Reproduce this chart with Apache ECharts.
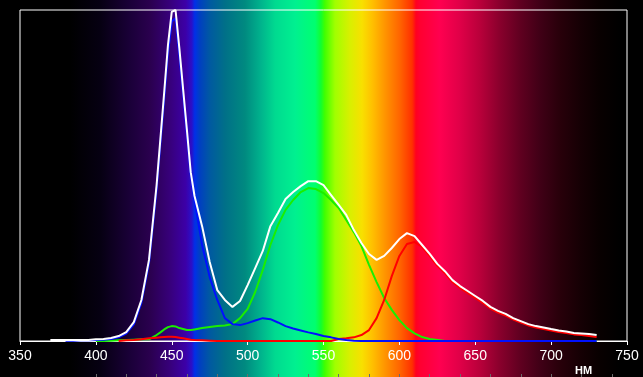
<!DOCTYPE html>
<html lang="ru">
<head>
  <meta charset="UTF-8">
  <title>Спектр</title>
  <style>
    html, body { margin: 0; padding: 0; background: #000; }
    #chart { width: 643px; height: 377px; }
  </style>
  <script src="https://cdn.jsdelivr.net/npm/echarts@6/dist/echarts.min.js"></script>
</head>
<body>
  <div id="chart"></div>
  <script>
    // длины волн, нм
    var wavelengths = [
      365, 370, 375, 380, 385, 390, 395, 400, 405, 410, 415, 420, 425, 430, 435, 440,
      442.5, 445, 447.5, 450, 452.5, 455, 457.5, 460, 462.5, 465,
      470, 475, 480, 485, 490, 495, 500, 505, 510, 515, 520, 525, 530, 535, 540, 545,
      550, 555, 560, 565, 570, 575, 580, 585, 590, 595, 600, 605, 610, 615, 620, 625,
      630, 635, 640, 645, 650, 655, 660, 665, 670, 675, 680, 685, 690, 695, 700, 705,
      710, 715, 720, 725, 730
    ];
    // суммарный спектр (белый)
    var whiteVals = [
      null, 0.3, 0.3, 0.3, 0.3, 0.3, 0.3, 0.5, 0.6, 0.9, 1.5, 2.7, 5.7, 12.4, 24.5, 47,
      61, 75, 89.4, 99.4, 100, 88.5, 76, 63.7, 51, 43.8,
      34.7, 23.9, 15.4, 12.4, 10.3, 12.1, 16.9, 22, 27.2, 34.7, 38.7, 42.9, 45, 46.8, 48.3, 48.3,
      47.1, 44.1, 41.1, 38.1, 33.5, 29.6, 26.3, 24.5, 25.7, 28.1, 30.8, 32.6, 31.7, 29, 26.3, 23.3,
      21.1, 18.4, 16.6, 15.1, 13.6, 12.1, 10.3, 9.1, 8.2, 6.9, 6, 5.1, 4.5, 4.1, 3.6, 3.2,
      2.9, 2.4, 2.3, 2.1, 1.8
    ];
    var blueVals = [
      null, null, null, 0.1, 0.1, 0.2, 0.2, 0.3, 0.4, 0.6, 1.1, 2.2, 5.0, 11.5, 23.5, 45.5,
      59.5, 73, 87, 96.5, 97.5, 86.5, 74.5, 62.5, 50.5, 42.6,
      29, 19.3, 12.4, 6.9, 5.1, 4.8, 5.4, 6.2, 6.9, 6.6, 5.6, 4.5, 3.8, 3.2, 2.6, 2.1,
      1.5, 1.1, 0.6, 0.3, 0.1, 0, 0, 0, 0, 0, 0, 0, 0, 0, 0, 0,
      0, 0, 0, 0, 0, 0, 0, 0, 0, 0, 0, 0, 0, 0, 0, 0,
      0, 0, 0, 0, 0
    ];
    var greenVals = [
      null, null, null, null, null, null, null, 0, 0, 0.1, 0.2, 0.3, 0.4, 0.5, 0.5, 1.8,
      2.6, 3.5, 4.2, 4.5, 4.4, 3.9, 3.6, 3.3, 3.3, 3.5,
      3.9, 4.2, 4.5, 4.7, 5.1, 6.9, 9.7, 14.8, 21.5, 29, 35, 39.6, 42.6, 45, 46.2, 45.9,
      44.7, 42.6, 40.2, 36.6, 32.9, 28.7, 23, 17.8, 13, 9.4, 6.3, 3.9, 2.3, 1.2, 0.6, 0.3,
      0, 0, 0, 0, 0, 0, 0, 0, 0, 0, 0, 0, 0, 0, 0, 0,
      0, 0, 0, 0, 0
    ];
    var redVals = [
      null, null, null, null, null, null, null, null, null, null, 0, 0.2, 0.3, 0.5, 0.8, 1.0,
      1.1, 1.2, 1.3, 1.3, 1.2, 1.0, 0.8, 0.6, 0.4, 0.3,
      0.2, 0.1, 0, 0, 0, 0, 0, 0, 0, 0, 0, 0, 0, 0, 0, 0,
      0, 0, 0.6, 0.8, 1.1, 1.8, 3.3, 6.9, 12.4, 19.6, 25.7, 29.3, 29.9, 28.4, 25.7, 22.7,
      20.5, 17.8, 16, 14.5, 13, 11.5, 9.8, 8.6, 7.7, 6.5, 5.6, 4.7, 4.1, 3.6, 3.2, 2.7,
      2.4, 2, 1.8, 1.5, 1.2
    ];
    var xTicks = [350, 400, 450, 500, 550, 600, 650, 700, 750];
    var minorTicks = [400, 420, 440, 460, 480, 500, 520, 540, 560, 580, 600, 620, 640, 660, 680, 700, 720, 740];

    // цвета спектра фона: [доля ширины, цвет]
    var spectrumStops = [
      [0, '#000000'], [0.109, '#000000'], [0.156, '#060012'], [0.202, '#1a0038'],
      [0.233, '#2a004e'], [0.264, '#37007a'], [0.289, '#3c00a8'], [0.298, '#2a10c8'],
      [0.303, '#0030e8'], [0.311, '#0040c0'], [0.327, '#005aa0'], [0.350, '#007088'],
      [0.381, '#008a80'], [0.404, '#00b08c'], [0.428, '#00da90'], [0.459, '#00f090'],
      [0.490, '#00ff70'], [0.499, '#10ff30'], [0.505, '#40ff00'], [0.521, '#a0ff00'],
      [0.544, '#d8f000'], [0.563, '#f8e000'], [0.579, '#ffc000'], [0.599, '#ff9400'],
      [0.622, '#ff6400'], [0.641, '#ff3000'], [0.647, '#ff0020'], [0.653, '#ff0030'],
      [0.684, '#ff0050'], [0.715, '#e00048'], [0.747, '#b8003a'], [0.778, '#88002c'],
      [0.809, '#600020'], [0.840, '#400016'], [0.871, '#28000a'], [0.902, '#160004'],
      [0.933, '#080000'], [0.964, '#000000'], [1, '#000000']
    ];

    function pairs(vals) {
      var out = [];
      for (var i = 0; i < wavelengths.length; i++) {
        if (vals[i] !== null) out.push([wavelengths[i], vals[i]]);
      }
      return out;
    }

    function lineSeries(name, color, vals) {
      return {
        name: name,
        type: 'line',
        xAxisIndex: 0,
        data: pairs(vals),
        symbol: 'none',
        lineStyle: { color: color, width: 2 },
        silent: true,
        animation: false
      };
    }

    var myChart = echarts.init(document.getElementById('chart'));
    var option = {
      backgroundColor: {
        type: 'linear', x: 0, y: 0, x2: 1, y2: 0,
        colorStops: spectrumStops.map(function (s) { return { offset: s[0], color: s[1] }; })
      },
      animation: false,
      title: {
        text: 'НМ',
        left: 575,
        top: 365,
        padding: 0,
        textStyle: { color: '#fff', fontSize: 11, fontWeight: 'bold', fontFamily: 'Liberation Sans, Arial, sans-serif' }
      },
      grid: {
        left: 20, right: 16, top: 10, bottom: 36,
        show: true,
        borderColor: '#fff',
        borderWidth: 1,
        backgroundColor: 'transparent'
      },
      xAxis: [{
        type: 'value',
        min: 350, max: 750, interval: 50,
        axisLine: { show: true, lineStyle: { color: '#fff', width: 1 } },
        axisTick: { show: true, length: 4, lineStyle: { color: '#fff' } },
        splitLine: { show: false },
        axisLabel: {
          color: '#fff', fontSize: 14, margin: 8,
          fontFamily: 'Liberation Sans, Arial, sans-serif',
          customValues: xTicks
        }
      }, {
        type: 'value',
        position: 'bottom',
        offset: 33,
        min: 350, max: 750,
        axisLine: { show: false },
        axisTick: { show: true, length: 3, customValues: minorTicks, lineStyle: { color: '#6a6a6a' } },
        axisLabel: { show: false },
        splitLine: { show: false }
      }],
      yAxis: {
        type: 'value',
        min: 0, max: 100,
        show: false,
        splitLine: { show: false }
      },
      series: [
        lineSeries('G', '#1aee00', greenVals),
        lineSeries('R', '#ff0000', redVals),
        lineSeries('B', '#0010ff', blueVals),
        lineSeries('W', '#ffffff', whiteVals)
      ]
    };
    myChart.setOption(option);
  </script>
</body>
</html>
